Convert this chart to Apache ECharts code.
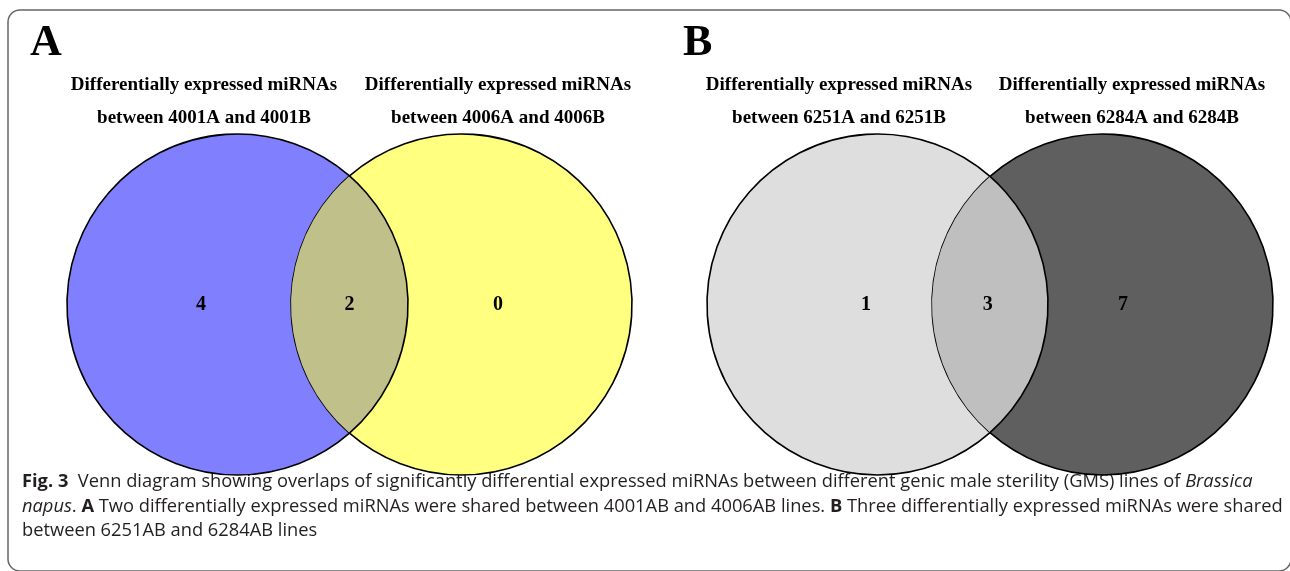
<!DOCTYPE html>
<html>
<head>
<meta charset="utf-8">
<script src="https://cdn.jsdelivr.net/npm/echarts@6/dist/echarts.min.js"></script>
<style>
html,body{margin:0;padding:0;background:#fff;}
#chart{width:1290px;height:571px;}
</style>
</head>
<body>
<div id="chart"></div>
<script>
// ---------- DATA ----------
const panelLetters = ['A', 'B'];
const regionNames = ['left only', 'shared', 'right only'];
const countsA = [4, 2, 0];
const countsB = [1, 3, 7];
const setTitlesA = ['Differentially expressed miRNAs\nbetween 4001A and 4001B', 'Differentially expressed miRNAs\nbetween 4006A and 4006B'];
const setTitlesB = ['Differentially expressed miRNAs\nbetween 6251A and 6251B', 'Differentially expressed miRNAs\nbetween 6284A and 6284B'];
const captionLines = [
  '{b|Fig. 3}  Venn diagram showing overlaps of significantly differential expressed miRNAs between different genic male sterility (GMS) lines of {i|Brassica}',
  '{i|napus}. {b|A} Two differentially expressed miRNAs were shared between 4001AB and 4006AB lines. {b|B} Three differentially expressed miRNAs were shared',
  'between 6251AB and 6284AB lines'
];

// ---------- LAYOUT / STYLE ----------
const STYLE = {
  colorsA: ['#8080FF', '#C0C08A', '#FFFF80'],
  colorsB: ['#DEDEDE', '#BFBFBF', '#5F5F5F'],
  grids: [
    {left: 67, top: 134, width: 565, height: 341},
    {left: 707, top: 134, width: 566, height: 341}
  ],
  labelFrac: [[0.237, 0.5, 0.763], [0.281, 0.496, 0.735]],
  titleX: [[204, 498], [839, 1132]],
  letterX: [30, 683],
  captionSize: 18.3,
  serif: '"Liberation Serif", "Times New Roman", serif',
  sans: '"Open Sans", "Noto Sans", sans-serif'
};

function makeRenderer(panel) {
  return function (params, api) {
    const idx = api.value(0);
    const cs = params.coordSys;
    const r = cs.height / 2;
    const cy = cs.y + r;
    const c1 = cs.x + r;
    const c2 = cs.x + cs.width - r;
    const mx = (c1 + c2) / 2;
    const h = Math.sqrt(r * r - (mx - c1) * (mx - c1));
    const tY = cy - h, bY = cy + h;
    let d;
    if (idx === 0) {
      d = `M${mx} ${tY} A${r} ${r} 0 1 0 ${mx} ${bY} A${r} ${r} 0 0 1 ${mx} ${tY} Z`;
    } else if (idx === 1) {
      d = `M${mx} ${tY} A${r} ${r} 0 0 1 ${mx} ${bY} A${r} ${r} 0 0 1 ${mx} ${tY} Z`;
    } else {
      d = `M${mx} ${tY} A${r} ${r} 0 1 1 ${mx} ${bY} A${r} ${r} 0 0 0 ${mx} ${tY} Z`;
    }
    const lx = cs.x + STYLE.labelFrac[panel][idx] * cs.width;
    return {
      type: 'group',
      children: [
        {
          type: 'path',
          shape: {pathData: d},
          style: {
            fill: api.visual('color'),
            stroke: idx === 1 ? null : '#000',
            lineWidth: idx === 1 ? 0 : 1.6
          }
        },
        {
          type: 'text',
          z2: 10,
          style: {
            text: String(api.value(1)),
            x: lx, y: cy,
            align: 'center', verticalAlign: 'middle',
            font: 'bold 20px ' + STYLE.serif,
            fill: '#000'
          }
        }
      ]
    };
  };
}

function buildData(counts, colors) {
  return counts.map((v, i) => ({name: regionNames[i], value: [i, v], itemStyle: {color: colors[i]}}));
}

const graphics = [
  {
    type: 'rect', shape: {x: 8, y: 10, width: 1283, height: 561, r: 12},
    style: {fill: null, stroke: '#666', lineWidth: 1.5}, silent: true
  }
];
panelLetters.forEach((L, p) => {
  graphics.push({
    type: 'text', x: STYLE.letterX[p], y: 44,
    style: {text: L, font: 'bold 44px ' + STYLE.serif, fill: '#000', verticalAlign: 'middle', align: 'left'}
  });
  const titles = p === 0 ? setTitlesA : setTitlesB;
  titles.forEach((t, k) => {
    const lines = t.split('\n');
    lines.forEach((ln, j) => {
      graphics.push({
        type: 'text', x: STYLE.titleX[p][k], y: 85 + j * 33,
        style: {text: ln, font: 'bold 19px ' + STYLE.serif, fill: '#000', align: 'center', verticalAlign: 'middle'}
      });
    });
  });
});
const cs = STYLE.captionSize;
captionLines.forEach((ln, j) => {
  graphics.push({
    type: 'text', x: 22, y: 482 + j * 24.5,
    style: {
      text: ln, font: cs + 'px ' + STYLE.sans, fill: '#231f20', verticalAlign: 'middle', align: 'left',
      rich: {
        b: {fontWeight: 'bold', fontFamily: STYLE.sans, fontSize: cs, fill: '#231f20'},
        i: {fontStyle: 'italic', fontFamily: STYLE.sans, fontSize: cs, fill: '#231f20'}
      }
    }
  });
});

const chart = echarts.init(document.getElementById('chart'), null, {renderer: 'canvas'});
chart.setOption({
  animation: false,
  backgroundColor: '#fff',
  grid: STYLE.grids.map(g => Object.assign({containLabel: false}, g)),
  xAxis: [0, 1].map(i => ({type: 'value', gridIndex: i, min: 0, max: 2, show: false})),
  yAxis: [0, 1].map(i => ({type: 'value', gridIndex: i, min: 0, max: 10, show: false})),
  series: [
    {type: 'custom', xAxisIndex: 0, yAxisIndex: 0, renderItem: makeRenderer(0), data: buildData(countsA, STYLE.colorsA), clip: false},
    {type: 'custom', xAxisIndex: 1, yAxisIndex: 1, renderItem: makeRenderer(1), data: buildData(countsB, STYLE.colorsB), clip: false}
  ],
  graphic: graphics
});
</script>
</body>
</html>
